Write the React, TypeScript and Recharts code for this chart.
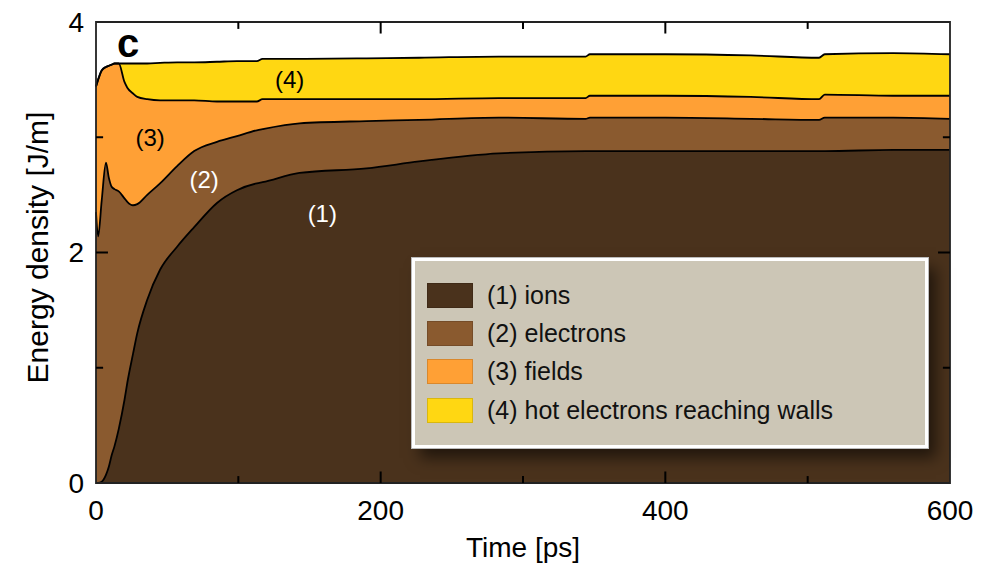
import { Area, AreaChart, ReferenceArea, ReferenceDot, ReferenceLine, XAxis, YAxis } from 'recharts'

// time axis [ps]
const times = [
  0, 1.5, 4, 7, 9, 11, 13, 16, 20, 22, 26, 29, 36, 45, 57, 69, 85, 99, 113, 117, 143, 190, 227, 283, 344, 347, 400,
  460, 508, 512, 560, 600,
]

// layer thicknesses [J/m] (stacked)
const ions = [
  0.0, 0.0, 0.01, 0.07, 0.14, 0.24, 0.32, 0.47, 0.72, 0.87, 1.12, 1.3, 1.59, 1.85, 2.05, 2.22, 2.43, 2.54, 2.6, 2.61,
  2.69, 2.73, 2.79, 2.86, 2.88, 2.88, 2.88, 2.88, 2.88, 2.88, 2.89, 2.89,
]
const electrons = [
  2.35, 2.14, 2.44, 2.71, 2.51, 2.33, 2.23, 2.06, 1.75, 1.57, 1.29, 1.12, 0.91, 0.75, 0.7, 0.66, 0.53, 0.47, 0.46, 0.46,
  0.43, 0.41, 0.36, 0.31, 0.28, 0.29, 0.29, 0.28, 0.27, 0.29, 0.28, 0.27,
]
const fields = [
  1.09, 1.36, 1.13, 0.83, 0.97, 1.06, 1.09, 1.11, 1.01, 0.99, 0.97, 0.93, 0.83, 0.72, 0.57, 0.44, 0.35, 0.3, 0.25, 0.26,
  0.21, 0.19, 0.18, 0.17, 0.18, 0.19, 0.19, 0.19, 0.18, 0.2, 0.19, 0.2,
]
const hotElectrons = [
  0, 0, 0, 0, 0, 0, 0, 0, 0.16, 0.21, 0.26, 0.29, 0.31, 0.325, 0.33, 0.33, 0.345, 0.35, 0.35, 0.35, 0.35, 0.355, 0.36,
  0.36, 0.36, 0.36, 0.36, 0.36, 0.36, 0.35, 0.37, 0.36,
]

const xTickLabels = [0, 200, 400, 600]
const yTickLabels = [0, 2, 4]
const xMajorTicks = [200, 400]
const xMinorTicks = [100, 300, 500]
const yMajorTicks = [2]
const yMinorTicks = [1, 3]

const seriesKeys = ['ions', 'electrons', 'fields', 'hot']
const seriesNames = ['(1) ions', '(2) electrons', '(3) fields', '(4) hot electrons reaching walls']
const seriesColors = ['#4a321c', '#8a5a2f', '#ffa035', '#ffd712']

const annotations = [
  { x: 159, y: 2.34, text: '(1)', color: '#fff' },
  { x: 76, y: 2.63, text: '(2)', color: '#fff' },
  { x: 38, y: 3.0, text: '(3)', color: '#000' },
  { x: 136, y: 3.5, text: '(4)', color: '#000' },
]

const data = times.map((t, i) => ({
  t,
  ions: ions[i],
  electrons: electrons[i],
  fields: fields[i],
  hot: hotElectrons[i],
}))

const FONT = '"Liberation Sans", Arial, Helvetica, sans-serif'

const X_MAJOR = 0.1
const X_MINOR = 0.06
const Y_MAJOR = 8.4
const Y_MINOR = 5

export default function App() {
  return (
    <div style={{ position: 'absolute', left: 0, top: 0, width: 1000, height: 564, fontFamily: FONT }}>
      <AreaChart width={1000} height={564} data={data} margin={{ top: 22, right: 50, bottom: 3, left: 0 }}>
        <XAxis
          dataKey="t"
          type="number"
          domain={[0, 600]}
          ticks={xTickLabels}
          tickLine={false}
          axisLine={false}
          height={78}
          tickMargin={11}
          tick={{ fill: '#000', fontSize: 28, fontFamily: FONT }}
          label={{ value: 'Time [ps]', position: 'insideBottom', offset: 4, fill: '#000', fontSize: 28, fontFamily: FONT }}
        />
        <YAxis
          type="number"
          domain={[0, 4]}
          ticks={yTickLabels}
          tickLine={false}
          axisLine={false}
          width={96}
          tickMargin={6}
          tick={{ fill: '#000', fontSize: 28, fontFamily: FONT }}
          label={{
            value: 'Energy density [J/m]',
            angle: -90,
            position: 'insideLeft',
            offset: 37,
            dy: -5,
            fill: '#000',
            fontSize: 30,
            fontFamily: FONT,
            style: { textAnchor: 'middle' },
          }}
        />
        {/* fills first, then the boundary lines on top so they are not half covered */}
        {seriesKeys.map((key, i) => (
          <Area
            key={key}
            dataKey={key}
            name={seriesNames[i]}
            stackId="energy"
            type="monotone"
            fill={seriesColors[i]}
            fillOpacity={1}
            stroke="none"
            isAnimationActive={false}
          />
        ))}
        {seriesKeys.map((key) => (
          <Area
            key={`${key}-line`}
            dataKey={key}
            stackId="lines"
            type="monotone"
            fill="none"
            stroke="#000"
            strokeWidth={1.8}
            isAnimationActive={false}
          />
        ))}
        <ReferenceArea x1={0} x2={600} y1={0} y2={4} fill="none" stroke="#222" strokeWidth={1.8} ifOverflow="extendDomain" />
        {xMajorTicks.concat(xMinorTicks).map((v) => {
          const len = xMajorTicks.includes(v) ? X_MAJOR : X_MINOR
          return [
            <ReferenceLine key={`b${v}`} segment={[{ x: v, y: 0 }, { x: v, y: len }]} stroke="#000" strokeWidth={2} />,
            <ReferenceLine key={`t${v}`} segment={[{ x: v, y: 4 }, { x: v, y: 4 - len }]} stroke="#000" strokeWidth={2} />,
          ]
        })}
        {yMajorTicks.concat(yMinorTicks).map((v) => {
          const len = yMajorTicks.includes(v) ? Y_MAJOR : Y_MINOR
          return [
            <ReferenceLine key={`l${v}`} segment={[{ x: 0, y: v }, { x: len, y: v }]} stroke="#000" strokeWidth={2} />,
            <ReferenceLine key={`r${v}`} segment={[{ x: 600, y: v }, { x: 600 - len, y: v }]} stroke="#000" strokeWidth={2} />,
          ]
        })}
        {annotations.map((a) => (
          <ReferenceDot
            key={a.text}
            x={a.x}
            y={a.y}
            r={0}
            fill="none"
            stroke="none"
            label={{ value: a.text, position: 'center', fill: a.color, fontSize: 24, fontFamily: FONT }}
          />
        ))}
        <ReferenceDot
          x={22.5}
          y={3.82}
          r={0}
          fill="none"
          stroke="none"
          label={{ value: 'c', position: 'center', fill: '#000', fontSize: 40, fontWeight: 'bold', fontFamily: FONT }}
        />
      </AreaChart>
      <div
        style={{
          position: 'absolute',
          left: 412,
          top: 258,
          width: 516,
          height: 190,
          boxSizing: 'border-box',
          background: '#ccc6b6',
          border: '3px solid #fff',
          outline: '1px solid #bbb',
          boxShadow: '8px 10px 14px rgba(0,0,0,0.55)',
          paddingTop: 15,
          paddingLeft: 12,
        }}
      >
        {seriesNames.map((name, i) => (
          <div key={name} style={{ display: 'flex', alignItems: 'center', height: 38.3 }}>
            <div
              style={{
                width: 44,
                height: 23,
                background: seriesColors[i],
                border: '1px solid rgba(0,0,0,0.15)',
                marginRight: 14,
              }}
            />
            <span style={{ fontSize: 25, color: '#111', lineHeight: 1 }}>{name}</span>
          </div>
        ))}
      </div>
    </div>
  )
}
